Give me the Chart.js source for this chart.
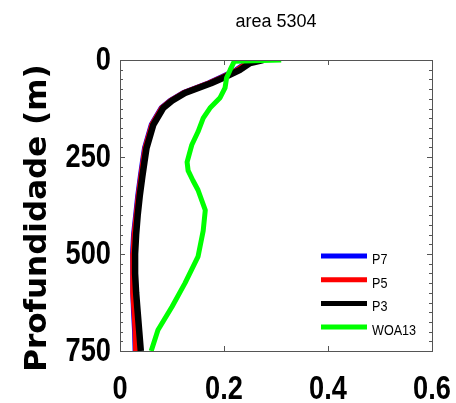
<!DOCTYPE html>
<html>
<head>
<meta charset="utf-8">
<script src="https://cdn.jsdelivr.net/npm/chart.js@4"></script>
<style>
  html, body { margin: 0; padding: 0; background: #fff; }
  #wrap { width: 456px; height: 403px; }
</style>
</head>
<body>
<div id="wrap"><canvas id="c" width="456" height="403"></canvas></div>
<script>
'use strict';
// profils verticaux, area 5304
const depthP = [0, 8, 26, 45, 60, 85, 105, 124, 167, 227, 263, 300, 350, 400, 450, 500, 550, 600, 650, 700, 750];
const p7 = [0.265, 0.244, 0.224, 0.195, 0.171, 0.122, 0.097, 0.080, 0.061, 0.048, 0.044, 0.040, 0.035, 0.031, 0.027, 0.025, 0.025, 0.026, 0.027, 0.029, 0.030];
const p5 = [0.268, 0.246, 0.226, 0.197, 0.172, 0.123, 0.098, 0.081, 0.062, 0.049, 0.045, 0.041, 0.036, 0.032, 0.028, 0.026, 0.025, 0.026, 0.028, 0.030, 0.031];
const p3 = [0.275, 0.250, 0.230, 0.200, 0.175, 0.125, 0.100, 0.083, 0.064, 0.051, 0.047, 0.043, 0.038, 0.034, 0.031, 0.029, 0.029, 0.031, 0.034, 0.037, 0.040];
const depthW = [0, 3, 25, 46, 72, 98, 124, 150, 185, 219, 263, 285, 310, 335, 387, 440, 507, 575, 636, 696, 750];
const woa13 = [0.31, 0.22, 0.212, 0.205, 0.202, 0.192, 0.173, 0.160, 0.150, 0.138, 0.129, 0.131, 0.140, 0.150, 0.164, 0.160, 0.150, 0.125, 0.100, 0.073, 0.060];
const seriesNames = ['P7', 'P5', 'P3', 'WOA13'];
const seriesColors = ['#0000ff', '#ff0000', '#000000', '#00ff00'];
const xTicks = [0, 0.2, 0.4, 0.6];
const yTicks = [0, 250, 500, 750];

const toPts = (xs, ys) => xs.map((v, i) => ({ x: v, y: ys[i] }));
const ds = (i, xs, ys, w, ord) => ({
  label: seriesNames[i], data: toPts(xs, ys), borderColor: seriesColors[i], backgroundColor: seriesColors[i],
  borderWidth: w, showLine: true, pointRadius: 0, tension: 0, borderJoinStyle: 'round', order: ord
});

// texte étroit (pas de police "narrow" installée -> on compresse)
function narrowText(ctx, txt, x, y, sx, align) {
  ctx.save();
  ctx.translate(x, y); ctx.scale(sx, 1);
  ctx.textAlign = align; ctx.fillText(txt, 0, 0);
  ctx.restore();
}

// ticks intérieurs + cadre + étiquettes + légende
const boxPlugin = {
  id: 'box',
  afterDraw(chart) {
    const { ctx, chartArea: a, scales: { x, y } } = chart;
    ctx.save();
    ctx.strokeStyle = '#555'; ctx.lineWidth = 1;
    ctx.strokeRect(a.left + 0.5, a.top + 0.5, a.right - a.left, a.bottom - a.top);
    ctx.beginPath();
    for (let d = 0; d <= 750; d += 25) {
      const py = Math.round(y.getPixelForValue(d)) + 0.5, len = d % 250 === 0 ? 5 : 3;
      ctx.moveTo(a.left, py); ctx.lineTo(a.left + len, py);
      ctx.moveTo(a.right, py); ctx.lineTo(a.right - len, py);
    }
    xTicks.forEach(v => {
      const px = Math.round(x.getPixelForValue(v)) + 0.5;
      ctx.moveTo(px, a.bottom); ctx.lineTo(px, a.bottom - 5);
      ctx.moveTo(px, a.top); ctx.lineTo(px, a.top + 5);
    });
    ctx.stroke();

    ctx.fillStyle = '#000';
    ctx.font = 'bold 34px "Liberation Sans"'; ctx.textBaseline = 'middle';
    yTicks.forEach(v => narrowText(ctx, String(v), a.left - 9, y.getPixelForValue(v) + 1, 0.8, 'right'));
    xTicks.forEach(v => narrowText(ctx, String(v), x.getPixelForValue(v), 390, 0.8, 'center'));

    // titre de l'axe y
    ctx.save();
    ctx.translate(38, 218); ctx.rotate(-Math.PI / 2);
    ctx.font = 'bold 31px "DejaVu Sans"'; ctx.textAlign = 'center';
    ctx.fillText('Profundidade (m)', 0, 0);
    ctx.restore();

    // légende
    ctx.font = '14px "Liberation Sans"'; ctx.textAlign = 'left';
    seriesNames.forEach((n, i) => {
      const ly = 256 + i * 23.7;
      ctx.strokeStyle = seriesColors[i]; ctx.lineWidth = 5;
      ctx.beginPath(); ctx.moveTo(321, ly); ctx.lineTo(367, ly); ctx.stroke();
      narrowText(ctx, n, 372, ly + 4, 0.9, 'left');
    });
    // titre
    ctx.font = '18px "Liberation Sans"';
    narrowText(ctx, 'area 5304', (a.left + a.right) / 2, 22, 1, 'center');
    ctx.restore();
  }
};

new Chart(document.getElementById('c'), {
  type: 'scatter',
  data: { datasets: [ds(0, p7, depthP, 6, 3), ds(1, p5, depthP, 6, 2), ds(2, p3, depthP, 6.5, 1), ds(3, woa13, depthW, 5, 0)] },
  options: {
    responsive: false, animation: false,
    layout: { padding: { top: 60, right: 24, left: 0, bottom: 0 } },
    plugins: { legend: { display: false }, tooltip: { enabled: false }, title: { display: false } },
    scales: {
      x: {
        type: 'linear', min: 0, max: 0.6,
        afterBuildTicks: s => { s.ticks = xTicks.map(v => ({ value: v })); },
        afterFit: s => { s.height = 52; },
        grid: { display: false }, border: { display: false },
        ticks: { display: false }
      },
      y: {
        type: 'linear', min: 0, max: 750, reverse: true,
        afterBuildTicks: s => { s.ticks = yTicks.map(v => ({ value: v })); },
        afterFit: s => { s.width = 120; },
        grid: { display: false }, border: { display: false },
        ticks: { display: false }
      }
    }
  },
  plugins: [boxPlugin]
});
</script>
</body>
</html>
